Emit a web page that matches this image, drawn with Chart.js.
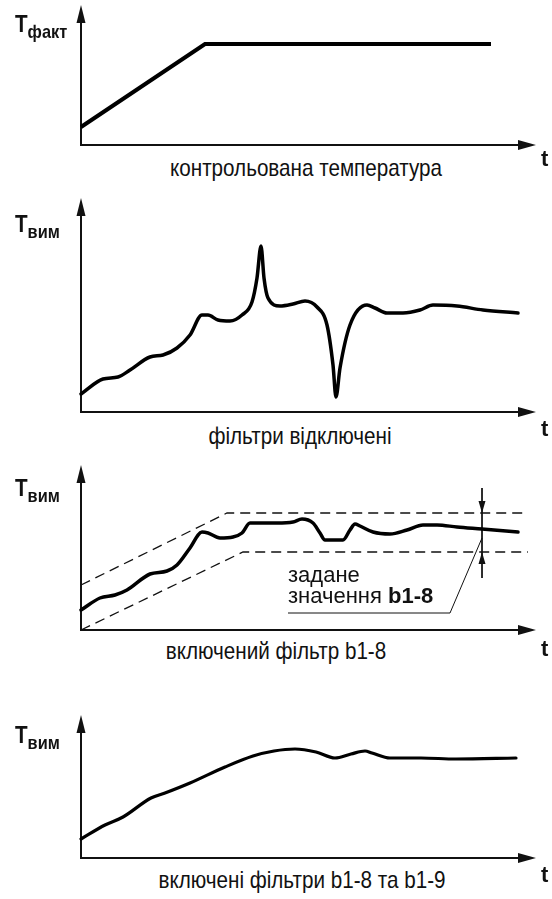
<!DOCTYPE html>
<html>
<head>
<meta charset="utf-8">
<script src="https://cdn.jsdelivr.net/npm/chart.js@4.4.1/dist/chart.umd.min.js"></script>
<style>
  body { margin: 0; background: #fff; width: 552px; height: 899px; position: relative; overflow: hidden;
         font-family: "Liberation Sans", Arial, sans-serif; color: #111; }
  canvas { position: absolute; left: 0; }
  .lbl { position: absolute; white-space: nowrap; }
</style>
</head>
<body>
<canvas id="c1"></canvas>
<canvas id="c2"></canvas>
<canvas id="c3"></canvas>
<canvas id="c4"></canvas>
<script>
// values (time / temperature, arbitrary units)

// 1: controlled temperature
const factX = [0, 124, 410];
const factY = [18, 101, 101];

// 2: filters off
const rawX = [0, 22, 37, 49, 69, 82, 96, 109, 121, 127, 137, 149, 161, 171, 176, 180, 183, 187, 199, 212,
  224, 236, 246, 252, 255, 259, 269, 286, 294, 306, 322, 339, 352, 376, 402, 437];
const rawY = [18, 33, 35, 42, 55, 57, 64, 77, 97, 97, 92, 91, 97, 110, 134, 166, 134, 114, 106, 108,
  111, 105, 87, 47, 15, 44, 87, 107, 104, 99, 99, 102, 107, 106, 102, 99];

// 3: filter b1-8 on
const b18X = [0, 19, 34, 46, 69, 86, 96, 109, 121, 127, 139, 152, 161, 169, 179, 196, 212, 221, 232, 239,
  244, 262, 269, 274, 279, 292, 309, 326, 342, 356, 376, 401, 437];
const b18Y = [20, 32, 35, 40, 56, 59, 65, 82, 98, 97, 92, 93, 97, 107, 107, 107, 108, 111, 107, 97,
  90, 90, 100, 106, 104, 98, 96, 100, 105, 105, 103, 101, 98];
const bandUpX = [0, 146, 447];
const bandUpY = [45, 117, 117];
const bandLoX = [0, 162, 447];
const bandLoY = [0, 78, 78];
const gapX = [401, 401];
const gapY = [142, 52];
const leaderX = [207, 369, 401];
const leaderY = [17, 17, 92];

// 4: filters b1-8 and b1-9 on
const b19X = [0, 24, 42, 70, 84, 109, 144, 172, 193, 214, 235, 254, 270, 284, 291, 309, 340, 375, 435];
const b19Y = [19, 33, 41, 60, 65, 75, 91, 102, 107, 109, 106, 100, 104, 107, 105, 100, 100, 99, 100];

const X_MAX = 455;

function pts(xs, ys) {
  return xs.map((x, i) => ({ x: x, y: ys[i] }));
}

function tri(ctx, x, y, dir, len, half) {
  ctx.beginPath();
  ctx.moveTo(x, y);
  if (dir === "up") { ctx.lineTo(x - half, y + len); ctx.lineTo(x + half, y + len); }
  if (dir === "down") { ctx.lineTo(x - half, y - len); ctx.lineTo(x + half, y - len); }
  if (dir === "right") { ctx.lineTo(x - len, y - half); ctx.lineTo(x - len, y + half); }
  ctx.closePath();
  ctx.fill();
}

const axisArrows = {
  id: "axisArrows",
  beforeDatasetsDraw(chart) {
    const { ctx, scales: { x, y } } = chart;
    const x0 = x.getPixelForValue(0), y0 = y.getPixelForValue(0);
    const xEnd = x.getPixelForValue(x.max), yEnd = y.getPixelForValue(y.max);
    ctx.save();
    ctx.strokeStyle = "#111";
    ctx.fillStyle = "#111";
    ctx.lineWidth = 2;
    ctx.beginPath();
    ctx.moveTo(x0, y0); ctx.lineTo(x0, yEnd + 14);
    ctx.moveTo(x0 - 1, y0); ctx.lineTo(xEnd - 14, y0);
    ctx.stroke();
    tri(ctx, x0, yEnd, "up", 18, 4.5);
    tri(ctx, xEnd, y0, "right", 18, 5);
    ctx.restore();
  },
  afterDatasetsDraw(chart, args, opts) {
    const { ctx, scales: { x, y } } = chart;
    ctx.save();
    ctx.fillStyle = "#111";
    (opts.marks || []).forEach(m => {
      tri(ctx, x.getPixelForValue(m.x), y.getPixelForValue(m.y), m.dir, 12, 3.5);
    });
    ctx.restore();
  }
};

function makeChart(id, top, yMax, datasets, marks) {
  const cv = document.getElementById(id);
  cv.width = 552;
  cv.height = yMax + 10;
  cv.style.top = (top - 5) + "px";
  return new Chart(cv, {
    type: "line",
    data: { datasets },
    options: {
      responsive: false,
      animation: false,
      layout: { padding: { left: 81, right: 16, top: 5, bottom: 5 } },
      scales: {
        x: { type: "linear", min: 0, max: X_MAX, display: false },
        y: { type: "linear", min: 0, max: yMax, display: false }
      },
      elements: { point: { radius: 0 } },
      plugins: { legend: { display: false }, tooltip: { enabled: false }, axisArrows: { marks: marks || [] } }
    },
    plugins: [axisArrows]
  });
}

function curve(xs, ys, width) {
  return { data: pts(xs, ys), borderColor: "#000", borderWidth: width, cubicInterpolationMode: "monotone",
           borderCapStyle: "round", borderJoinStyle: "round", clip: false, fill: false };
}

function thin(xs, ys, dash) {
  return { data: pts(xs, ys), borderColor: "#111", borderWidth: dash ? 1.3 : 1, borderDash: dash ? [10, 6] : [],
           tension: 0, clip: false, fill: false };
}

makeChart("c1", 5, 140, [
  { data: pts(factX, factY), borderColor: "#000", borderWidth: 4, tension: 0, clip: false, borderJoinStyle: "miter" }
]);
makeChart("c2", 198, 214, [curve(rawX, rawY, 3.5)]);
makeChart("c3", 465, 165, [
  thin(bandUpX, bandUpY, true),
  thin(bandLoX, bandLoY, true),
  curve(b18X, b18Y, 3.5),
  thin(gapX, gapY, false),
  thin(leaderX, leaderY, false)
], [
  { x: gapX[0], y: bandUpY[2], dir: "down" },
  { x: gapX[0], y: bandLoY[2], dir: "up" }
]);
makeChart("c4", 715, 143, [curve(b19X, b19Y, 3.2)]);

// text labels
function place(html, left, baseline, size, style) {
  const d = document.createElement("div");
  d.className = "lbl";
  d.innerHTML = html;
  d.style.left = left + "px";
  d.style.top = (baseline - 0.8465 * size) + "px";
  d.style.fontSize = size + "px";
  d.style.lineHeight = size + "px";
  Object.assign(d.style, style || {});
  document.body.appendChild(d);
  return d;
}

function yLabel(sub, baseline) {
  place('T<span style="font-size:19px;position:relative;top:6px">' + sub + "</span>", 15, baseline, 24,
        { fontWeight: "bold", transform: "scaleX(0.86)", transformOrigin: "left" });
}

function caption(text, cx, baseline) {
  const d = place(text, cx - 250, baseline, 24,
        { width: "500px", textAlign: "center", transform: "scaleX(0.86)", transformOrigin: "center" });
}

function tLabel(baseline) {
  place("t", 541, baseline, 22, { fontWeight: "bold" });
}

yLabel("факт", 32);
yLabel("вим", 232);
yLabel("вим", 496);
yLabel("вим", 743);

tLabel(167);
tLabel(437);
tLabel(657);
tLabel(883);

caption("контрольована температура", 306, 176);
caption("фільтри відключені", 300, 444);
caption("включений фільтр b1-8", 276, 659);
caption("включені фільтри b1-8 та b1-9", 302, 888);

place("задане", 288, 583, 22);
place('значення <b>b1-8</b>', 288, 604, 22);
</script>
</body>
</html>
